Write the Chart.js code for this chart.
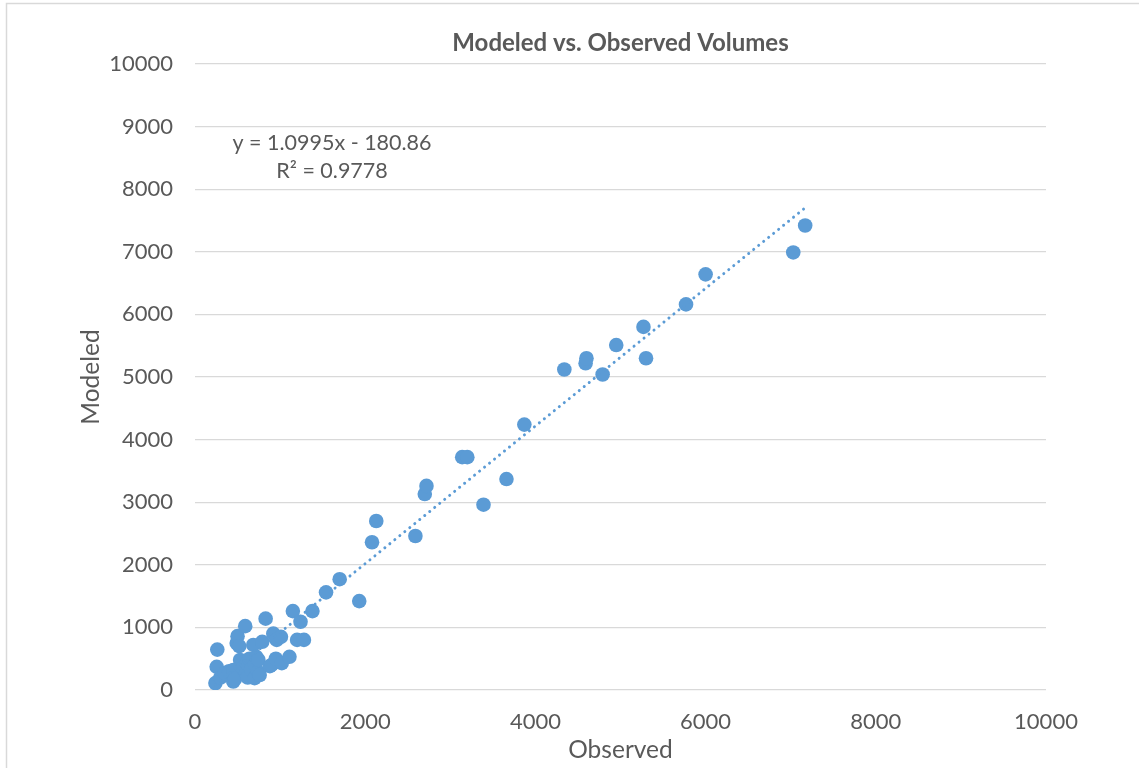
<!DOCTYPE html>
<html><head><meta charset="utf-8">
<script src="https://cdn.jsdelivr.net/npm/chart.js@4.4.1/dist/chart.umd.min.js"></script>
<style>html,body{margin:0;padding:0;background:#fff}#wrap{width:1139px;height:768px;position:relative}</style>
</head><body><div id="wrap"><canvas id="c" width="1139" height="768"></canvas></div>
<script>
// ---- data ----
const observed = [240,255,262,300,350,400,450,450,470,490,500,520,530,560,590,600,607,620,640,660,685,700,705,720,740,745,760,790,830,880,900,920,950,960,1010,1020,1110,1150,1200,1240,1280,1380,1540,1700,1930,
  2080,2130,2590,2700,2720,3140,3200,3390,3660,3870,4340,4590,4600,4790,4950,5270,5300,5770,6000,7030,7170];
const modeled = [110,370,645,200,270,300,135,320,180,750,860,700,480,350,1020,270,430,200,500,330,720,190,410,530,290,480,240,770,1140,380,400,900,500,800,850,430,530,1260,800,1090,800,1260,1560,1770,1420,
  2360,2700,2460,3130,3260,3720,3720,2960,3370,4240,5120,5220,5300,5040,5510,5800,5300,6160,6640,6990,7420];
const xTicks = [0,2000,4000,6000,8000,10000];
const yTicks = [0,1000,2000,3000,4000,5000,6000,7000,8000,9000,10000];
const trendSlope = 1.0995;
const trendIntercept = -180.86;
const eqLines = ['y = 1.0995x - 180.86', 'R² = 0.9778'];
const chartTitle = 'Modeled vs. Observed Volumes';
const xTitle = 'Observed';
const yTitle = 'Modeled';

const points = observed.map((x, i) => ({x: x, y: modeled[i]}));
const xmin = Math.min(...observed), xmax = Math.max(...observed);
const trend = [xmin, xmax].map(x => ({x: x, y: trendSlope * x + trendIntercept}));

const BLUE = '#5B9BD5';
const TXT = '#595959';
const FONT = 'Lato, "Open Sans", sans-serif';

const decor = {
  id: 'decor',
  beforeDraw(chart) {
    const ctx = chart.ctx;
    ctx.save();
    ctx.strokeStyle = '#d9d9d9';
    ctx.lineWidth = 1.5;
    ctx.beginPath();
    ctx.moveTo(6.5, 768); ctx.lineTo(6.5, 3.5); ctx.lineTo(1139, 3.5);
    ctx.stroke();
    ctx.restore();
  },
  afterDraw(chart) {
    const ctx = chart.ctx, a = chart.chartArea;
    ctx.save();
    ctx.fillStyle = TXT;
    ctx.textAlign = 'center';
    ctx.textBaseline = 'middle';
    ctx.font = 'bold 24px ' + FONT;
    ctx.fillText(chartTitle, (a.left + a.right) / 2, 43);
    ctx.font = '21.5px ' + FONT;
    ctx.fillText(eqLines[0], 332, 143);
    ctx.fillText(eqLines[1], 332, 171);
    ctx.restore();
  }
};

new Chart(document.getElementById('c'), {
  type: 'scatter',
  data: {
    datasets: [
      {
        label: 'Volumes',
        data: points,
        backgroundColor: BLUE,
        borderWidth: 0,
        pointRadius: 7.3,
        pointHoverRadius: 7.3,
        order: 2
      },
      {
        type: 'line',
        label: 'Trend',
        data: trend,
        borderColor: BLUE,
        borderWidth: 3,
        borderDash: [0.01, 6.4],
        borderCapStyle: 'round',
        pointRadius: 0,
        fill: false,
        order: 1
      }
    ]
  },
  options: {
    responsive: false,
    animation: false,
    devicePixelRatio: 1,
    layout: {padding: {left: 8, right: 93, top: 64, bottom: 0}},
    plugins: {legend: {display: false}, tooltip: {enabled: false}, title: {display: false}},
    scales: {
      x: {
        type: 'linear', min: 0, max: 10000,
        afterBuildTicks: s => { s.ticks = xTicks.map(v => ({value: v})); },
        afterFit: s => { s.height = 78; },
        grid: {display: false, drawTicks: false},
        border: {display: false},
        ticks: {color: TXT, font: {family: FONT, size: 22}, padding: 19, maxRotation: 0, callback: v => String(v)},
        title: {display: true, text: xTitle, color: TXT, font: {family: FONT, size: 24.5}, padding: {top: 0, bottom: 3}}
      },
      y: {
        type: 'linear', min: 0, max: 10000,
        afterBuildTicks: s => { s.ticks = yTicks.map(v => ({value: v})); },
        afterFit: s => { s.width = 187; },
        grid: {color: '#d9d9d9', lineWidth: 1.3, drawTicks: false},
        border: {display: false},
        ticks: {color: TXT, font: {family: FONT, size: 22}, padding: 22, callback: v => String(v)},
        title: {display: true, text: yTitle, color: TXT, font: {family: FONT, size: 24.5}, padding: {top: 68, bottom: 0}}
      }
    }
  },
  plugins: [decor]
});
</script>
</body></html>
